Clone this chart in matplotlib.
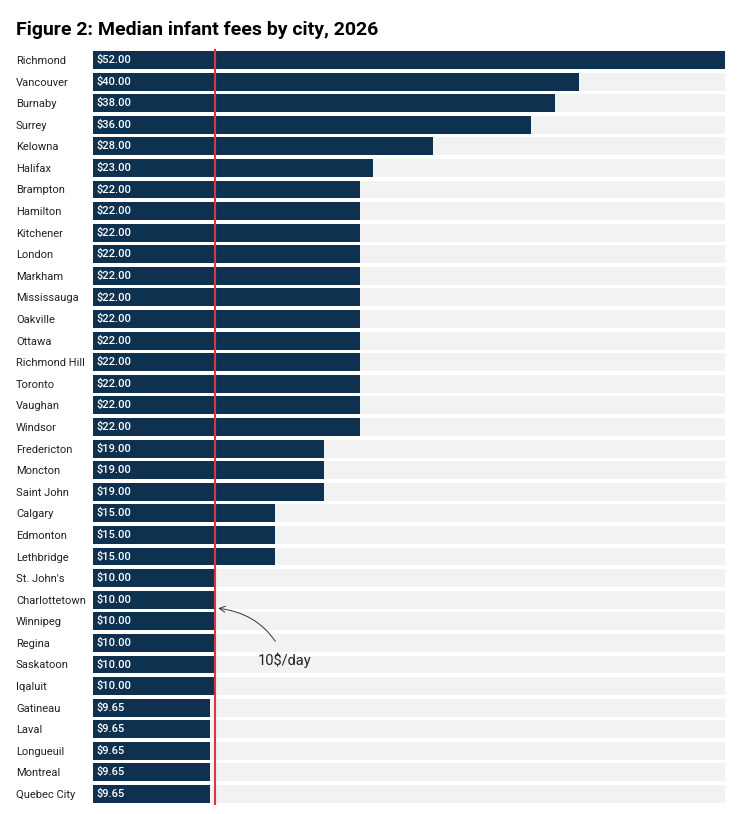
import numpy as np
import matplotlib.pyplot as plt

cities = ["Richmond", "Vancouver", "Burnaby", "Surrey", "Kelowna", "Halifax",
          "Brampton", "Hamilton", "Kitchener", "London", "Markham", "Mississauga",
          "Oakville", "Ottawa", "Richmond Hill", "Toronto", "Vaughan", "Windsor",
          "Fredericton", "Moncton", "Saint John", "Calgary", "Edmonton", "Lethbridge",
          "St. John's", "Charlottetown", "Winnipeg", "Regina", "Saskatoon", "Iqaluit",
          "Gatineau", "Laval", "Longueuil", "Montreal", "Quebec City"]
fees = [52, 40, 38, 36, 28, 23,
        22, 22, 22, 22, 22, 22,
        22, 22, 22, 22, 22, 22,
        19, 19, 19, 15, 15, 15,
        10, 10, 10, 10, 10, 10,
        9.65, 9.65, 9.65, 9.65, 9.65]
target = 10

plt.rcParams['font.family'] = ['Roboto', 'DejaVu Sans']

fig = plt.figure(figsize=(7.56, 8.14), dpi=100)
ax = fig.add_axes([0.123, 0.0113, 0.836, 0.9283])

y = np.arange(len(cities))
ax.barh(y, [max(fees)] * len(cities), height=0.83, color="#f2f2f2", zorder=1)
ax.barh(y, fees, height=0.83, color="#0f3150", zorder=2)

for yi, v in zip(y, fees):
    ax.text(0.25, yi, f"${v:.2f}", color="white", fontsize=8, fontweight="medium",
            va="center", ha="left", zorder=3)

ax.axvline(target, color="#e03340", lw=1.5, zorder=4)

ax.set_xlim(0, max(fees))
ax.set_ylim(len(cities) - 0.5, -0.5)
ax.set_yticks(y)
ax.set_yticklabels(cities, fontsize=8, ha="left", color="#222222")
ax.tick_params(axis="y", length=0, pad=55.5)
ax.set_xticks([])
for s in ax.spines.values():
    s.set_visible(False)

ax.annotate("10$/day", xy=(10.3, 25.4), xytext=(15.8, 27.8),
            fontsize=10.5, color="#222222", ha="center", va="center",
            arrowprops=dict(arrowstyle="->", color="#333333", lw=0.7,
                            connectionstyle="arc3,rad=0.3", shrinkB=0, shrinkA=7))

fig.text(0.021, 0.963, "Figure 2: Median infant fees by city, 2026",
         fontsize=14, fontweight="bold", ha="left", va="center")

plt.savefig("out.png", dpi=100)
plt.close()
